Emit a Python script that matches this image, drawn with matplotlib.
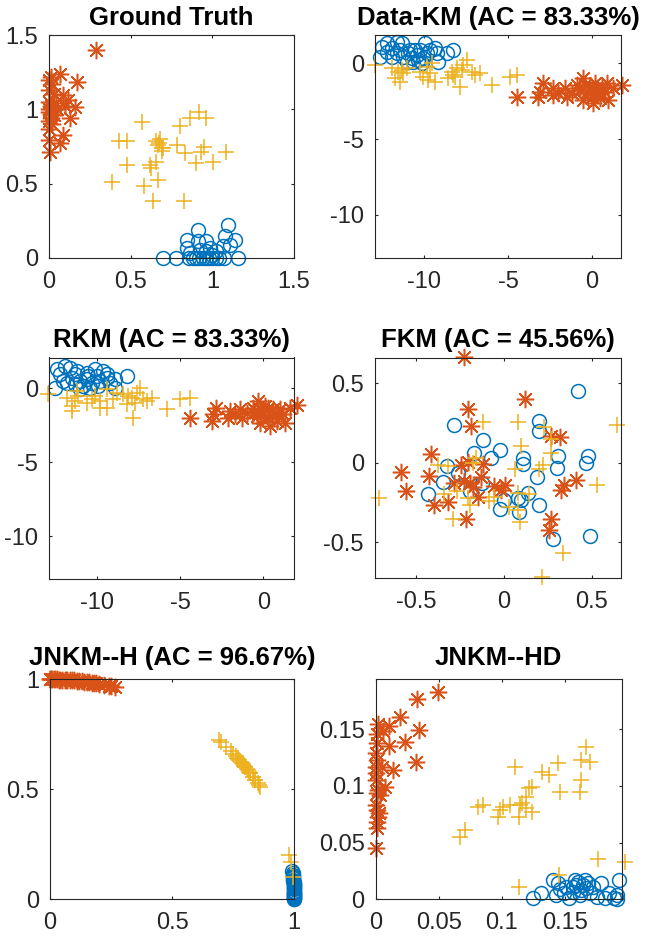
import matplotlib
matplotlib.use('Agg')
import matplotlib.pyplot as plt

plt.rcParams['font.family'] = ['Liberation Sans', 'DejaVu Sans']
plt.rcParams['axes.unicode_minus'] = False

BLUE = '#0072BD'
ORANGE = '#D95319'
YELLOW = '#EDB120'

# ---------------- Ground Truth ----------------
gt_blue_x = [0.70, 0.78, 0.86, 0.88, 0.90, 0.92, 0.94, 0.96, 0.98, 1.00, 1.02, 1.04, 1.07, 1.16,
             0.842, 0.913, 0.842, 0.913, 0.964, 0.923, 0.984, 1.096, 1.076, 1.137, 1.106, 1.066, 0.964, 1.025, 0.862, 1.0]
gt_blue_y = [0, 0, 0, 0, 0, 0, 0, 0, 0, 0, 0, 0, 0, 0,
             0.123, 0.19, 0.067, 0.112, 0.112, 0.056, 0.067, 0.224, 0.146, 0.123, 0.09, 0.078, 0.045, 0.045, 0.034, 0.02]
gt_orange_x = [0.287, 0.067, 0.169, 0.0, 0.01, 0.02, 0.0, 0.03, 0.088, 0.118, 0.159, 0.128, 0.088, 0.067, 0.0,
               0.006, 0.0, 0.01, 0.02, 0.0, 0.03, 0.01, 0.0, 0.02, 0.04, 0.0, 0.015, 0.05, 0.0, 0.1]
gt_orange_y = [1.40, 1.238, 1.186, 1.20, 1.22, 1.17, 1.13, 1.10, 1.097, 1.063, 1.019, 0.94, 0.828, 0.772, 0.795,
               0.716, 1.05, 1.02, 1.0, 0.98, 0.96, 0.94, 0.92, 0.90, 1.04, 1.0, 0.97, 1.0, 0.87, 1.02]
gt_yellow_x = [0.567, 0.428, 0.475, 0.475, 0.387, 0.581, 0.634, 0.668, 0.617, 0.627, 0.658, 0.675, 0.689, 0.801, 0.862,
               0.919, 0.964, 0.781, 0.832, 0.903, 0.948, 0.933, 1.005, 1.086, 0.827, 0.699, 0.658, 0.68, 0.67, 0.69]
gt_yellow_y = [0.918, 0.784, 0.784, 0.627, 0.508, 0.481, 0.381, 0.526, 0.627, 0.604, 0.649, 0.772, 0.739, 0.889, 0.94,
               0.985, 0.94, 0.761, 0.705, 0.638, 0.75, 0.716, 0.649, 0.716, 0.381, 0.739, 0.784, 0.80, 0.76, 0.72]

# ---------------- Data-KM ----------------
dk_blue_x = [-12.25, -11.65, -12.55, -11.95, -11.35, -11.45, -12.65, -11.95, -10.96, -10.76, -10.46, -10.26, -9.96, -9.86, -10.06,
             -9.36, -9.26, -9.16, -8.27, -8.67, -10.66, -10.36, -11.06, -10.86, -11.65, -12.25, -11.25, -9.66, -10.56, -10.16]
dk_blue_y = [1.32, 1.43, 1.10, 0.99, 1.32, 0.88, 0.44, 0.44, 0.66, 0.33, 0.55, 0.88, 1.32, 0.66, 0.33,
             0.99, 0.66, 0.11, 0.88, 0.66, 0.11, 0.22, 0.11, 0.88, 0.66, 0.77, 0.44, 0.88, 0.88, 0.0]
dk_orange_x = [-4.48, -3.19, -2.89, -3.09, -2.29, -2.29, -1.49, -1.59, -1.20, -0.90, -0.50, -0.40, -0.50, -0.30, -0.10,
               0.0, 0.10, 0.30, 0.50, 0.60, 0.80, 1.00, 1.29, 1.79, 0.20, -0.20, -0.70, 0.90, 0.40, -1.99]
dk_orange_y = [-2.2, -2.2, -1.32, -1.87, -2.09, -1.65, -2.2, -1.65, -1.98, -1.43, -0.99, -1.43, -2.42, -1.87, -1.54,
               -2.2, -2.64, -1.65, -2.31, -1.54, -1.87, -2.42, -1.65, -1.43, -1.32, -1.98, -1.76, -1.32, -1.98, -1.98]
dk_yellow_x = [-12.95, -11.95, -11.35, -11.75, -11.45, -11.06, -10.26, -9.86, -9.56, -9.76, -9.36, -8.57, -8.37, -8.17, -7.87,
               -7.77, -7.67, -7.47, -7.17, -6.97, -6.67, -5.98, -4.88, -4.48, -11.25, -9.66, -8.27, -10.06, -8.07, -11.55]
dk_yellow_y = [-0.11, -0.33, -0.44, -0.99, -1.21, -0.33, -0.55, -0.22, 0.0, -1.10, -1.21, -0.99, -0.55, -0.88, -1.54,
               -0.44, -0.11, 0.22, -0.55, -0.77, -0.66, -1.43, -0.88, -0.77, -0.66, -0.66, -0.77, -0.88, -0.33, -0.55]

# ---------------- RKM ----------------
rk_blue_x = [-12.4, -11.9, -11.6, -12.2, -11.3, -12.5, -11.8, -11.0, -10.6, -10.8, -11.0, -10.1, -10.0, -10.3, -9.8,
             -9.4, -8.9, -8.2, -9.2, -10.4, -11.2, -10.6, -9.6, -8.9, -9.9, -11.5, -12.0, -11.3, -10.5, -9.4]
rk_blue_y = [1.29, 1.51, 1.40, 0.95, 0.95, 0.05, 0.38, 0.50, 0.61, 0.16, -0.07, 1.29, 0.84, 0.38, 0.50,
             0.72, 0.61, 0.84, 0.38, 0.05, 1.17, 1.06, 1.17, 0.05, 0.16, 0.72, 0.50, 0.27, 0.84, 0.95]
rk_orange_x = [-4.4, -3.1, -2.84, -3.0, -2.1, -2.0, -1.3, -1.4, -1.0, -0.6, -0.3, -0.2, -0.2, 0.0, 0.1,
               0.3, 0.4, 0.6, 0.8, 1.0, 1.16, 1.3, 1.6, 2.0, 0.3, -0.4, -0.6, 0.9, 0.5, -1.7]
rk_orange_y = [-2.03, -2.21, -1.31, -1.76, -1.99, -1.53, -1.99, -1.42, -1.65, -1.31, -0.86, -1.42, -2.33, -1.76, -1.20,
               -1.99, -2.55, -1.42, -2.21, -1.42, -1.76, -2.33, -1.31, -1.15, -1.31, -1.87, -1.65, -1.76, -1.87, -1.76]
rk_yellow_x = [-12.9, -11.8, -11.5, -11.3, -11.5, -11.1, -10.1, -9.8, -9.4, -9.4, -8.4, -8.2, -7.9, -7.8, -7.6,
               -7.4, -7.2, -6.7, -7.0, -5.8, -5.0, -4.4, -10.6, -9.0, -8.1, -9.8, -11.2, -8.8, -7.7, -10.3]
rk_yellow_y = [-0.41, -0.63, -1.20, -0.86, -1.53, -0.52, -0.52, -1.31, -1.31, -0.07, -0.41, -1.08, -0.63, -1.99, -0.29,
               0.05, -0.74, -0.63, -0.86, -1.42, -0.74, -0.63, -0.97, -0.74, -0.52, -0.86, -0.18, -0.29, -0.97, -0.74]

# ---------------- FKM ----------------
fk_blue_x = [0.421, -0.285, 0.203, 0.203, -0.12, -0.019, -0.171, -0.072, 0.108, 0.108, 0.311, 0.302, 0.478, 0.469, -0.323,
             -0.347, -0.429, -0.19, -0.125, 0.19, 0.08, 0.099, 0.137, 0.0, -0.019, 0.089, 0.203, 0.279, 0.493, -0.262]
fk_blue_y = [0.449, 0.235, 0.26, 0.203, 0.145, 0.082, 0.061, 0.029, 0.029, -0.006, 0.04, -0.034, 0.04, -0.002, -0.023,
             -0.122, -0.195, -0.18, -0.128, -0.086, -0.222, -0.233, -0.187, -0.233, -0.291, -0.31, -0.264, -0.48, -0.457, -0.065]
fk_orange_x = [-0.228, 0.121, -0.205, -0.186, -0.414, -0.584, -0.423, -0.556, -0.395, -0.319, -0.243, -0.205, -0.12, -0.129, -0.224,
               -0.195, -0.281, -0.176, -0.148, -0.057, 0.004, -0.214, 0.269, 0.317, 0.412, 0.342, 0.323, 0.266, 0.26, -0.015]
fk_orange_y = [0.665, 0.40, 0.338, 0.233, 0.057, -0.055, -0.08, -0.18, -0.268, -0.249, -0.013, 0.008, -0.006, -0.086, -0.117,
               -0.128, -0.124, -0.149, -0.212, -0.145, -0.138, -0.352, 0.17, 0.161, -0.107, -0.138, -0.17, -0.354, -0.421, -0.17]
fk_yellow_x = [-0.708, 0.645, -0.116, 0.08, 0.099, 0.228, 0.266, 0.266, 0.222, 0.199, 0.061, -0.372, -0.319, -0.176, -0.157,
               -0.342, -0.205, -0.195, -0.29, -0.082, -0.053, 0.08, 0.146, 0.095, 0.08, 0.336, 0.216, 0.531, 0.032, -0.266]
fk_yellow_y = [-0.222, 0.239, 0.254, 0.254, 0.103, 0.224, 0.149, 0.061, -0.013, -0.04, -0.04, -0.013, -0.023, 0.002, 0.029,
               -0.195, -0.222, -0.264, -0.354, -0.243, -0.212, -0.187, -0.195, -0.369, -0.296, -0.564, -0.715, -0.138, -0.275, -0.18]

# ---------------- JNKM--H ----------------
jh_blue_x = [1.0, 1.0, 1.0, 1.0, 1.0, 1.0, 1.0, 1.0, 1.0, 1.0, 0.999, 0.999, 0.999, 0.999, 0.999,
             0.999, 0.998, 0.998, 0.998, 0.998, 0.997, 0.997, 0.996, 0.996, 0.995, 0.995, 0.994, 0.994, 0.993, 0.992]
jh_blue_y = [0.0, 0.0, 0.005, 0.01, 0.01, 0.015, 0.02, 0.02, 0.025, 0.03, 0.03, 0.035, 0.04, 0.045, 0.05,
             0.05, 0.055, 0.06, 0.065, 0.07, 0.075, 0.08, 0.085, 0.09, 0.095, 0.10, 0.105, 0.11, 0.12, 0.13]
jh_orange_x = [0.0, 0.0, 0.005, 0.01, 0.015, 0.02, 0.03, 0.035, 0.04, 0.05, 0.06, 0.065, 0.07, 0.08, 0.09,
               0.10, 0.11, 0.12, 0.13, 0.14, 0.15, 0.16, 0.17, 0.18, 0.19, 0.20, 0.22, 0.24, 0.25, 0.265]
jh_orange_y = [1.0, 1.0, 1.0, 1.0, 1.0, 1.0, 1.0, 0.999, 0.999, 0.999, 0.998, 0.998, 0.998, 0.997, 0.996,
               0.995, 0.994, 0.993, 0.992, 0.990, 0.989, 0.987, 0.985, 0.984, 0.982, 0.980, 0.976, 0.971, 0.968, 0.964]
jh_yellow_x = [0.69, 0.70, 0.72, 0.74, 0.75, 0.76, 0.765, 0.77, 0.775, 0.78, 0.785, 0.79, 0.795, 0.80, 0.80,
               0.805, 0.81, 0.815, 0.82, 0.82, 0.83, 0.83, 0.84, 0.84, 0.85, 0.855, 0.86, 0.98, 0.985, 0.995]
jh_yellow_y = [0.724, 0.714, 0.694, 0.673, 0.661, 0.650, 0.644, 0.638, 0.632, 0.626, 0.620, 0.613, 0.607, 0.600, 0.600,
               0.593, 0.586, 0.579, 0.572, 0.572, 0.558, 0.558, 0.543, 0.543, 0.527, 0.519, 0.510, 0.20, 0.17, 0.10]

# ---------------- JNKM--HD ----------------
hd_blue_x = [0.1247, 0.1308, 0.1402, 0.1429, 0.1461, 0.1509, 0.1536, 0.1563, 0.159, 0.1603, 0.163, 0.1643, 0.1657, 0.167, 0.1697,
             0.1617, 0.1751, 0.1783, 0.1818, 0.1885, 0.1912, 0.1925, 0.1853, 0.1496, 0.1442, 0.1576, 0.1724, 0.1912, 0.1563, 0.1684]
hd_blue_y = [0.001, 0.0053, 0.017, 0.0038, 0.0088, 0.0112, 0.001, 0.0068, 0.0126, 0.0156, 0.0082, 0.0126, 0.0171, 0.0097, 0.0053,
             0.0038, 0.0024, 0.0141, 0.001, 0.001, 0.0038, 0.0171, 0.0053, 0.0053, 0.0141, 0.0171, 0.0112, 0.0, 0.0112, 0.0141]
hd_orange_x = [0.049, 0.0324, 0.019, 0.0343, 0.0102, 0.0236, 0.0102, 0.0316, 0.0137, 0.0075, 0.002, 0.001, 0.001, 0.0, 0.001,
               0.0, 0.0, 0.0, 0.002, 0.001, 0.0, 0.001, 0.002, 0.001, 0.001, 0.0, 0.0035, 0.003, 0.005, 0.006]
hd_orange_y = [0.183, 0.177, 0.161, 0.149, 0.153, 0.139, 0.135, 0.121, 0.114, 0.099, 0.155, 0.146, 0.138, 0.129, 0.123,
               0.117, 0.111, 0.105, 0.096, 0.094, 0.083, 0.079, 0.073, 0.0685, 0.063, 0.045, 0.092, 0.076, 0.117, 0.148]
hd_yellow_x = [0.0665, 0.0705, 0.0853, 0.0812, 0.0973, 0.0987, 0.1067, 0.1102, 0.1134, 0.1161, 0.1188, 0.1214, 0.1241, 0.1241, 0.1322,
               0.1375, 0.1442, 0.1461, 0.1617, 0.163, 0.163, 0.167, 0.1697, 0.1134, 0.1456, 0.1764, 0.1979, 0.1147, 0.1188, 0.1013]
hd_yellow_y = [0.0553, 0.0612, 0.0832, 0.0818, 0.0729, 0.0788, 0.0832, 0.117, 0.0729, 0.0847, 0.0906, 0.0979, 0.0994, 0.0774, 0.1126,
               0.1097, 0.12, 0.095, 0.095, 0.1053, 0.1229, 0.1347, 0.1215, 0.0112, 0.0215, 0.0353, 0.0332, 0.0832, 0.0803, 0.0818]

titles = ['Ground Truth', 'Data-KM (AC = 83.33%)', 'RKM (AC = 83.33%)',
          'FKM (AC = 45.56%)', 'JNKM--H (AC = 96.67%)', 'JNKM--HD']

panels = [
    dict(title=titles[0], blue=(gt_blue_x, gt_blue_y), orange=(gt_orange_x, gt_orange_y), yellow=(gt_yellow_x, gt_yellow_y),
         xlim=(0, 1.5), ylim=(0, 1.5), xt=[0, 0.5, 1, 1.5], xtl=['0', '0.5', '1', '1.5'],
         yt=[0, 0.5, 1, 1.5], ytl=['0', '0.5', '1', '1.5'], rect=(49, 35, 294, 258), tpad=7.5),
    dict(title=titles[1], blue=(dk_blue_x, dk_blue_y), orange=(dk_orange_x, dk_orange_y), yellow=(dk_yellow_x, dk_yellow_y),
         xlim=(-12.95, 1.75), ylim=(-12.84, 1.87), xt=[-10, -5, 0], xtl=['-10', '-5', '0'],
         yt=[-10, -5, 0], ytl=['-10', '-5', '0'], rect=(375, 35, 621, 258), tpad=7.5),
    dict(title=titles[2], blue=(rk_blue_x, rk_blue_y), orange=(rk_orange_x, rk_orange_y), yellow=(rk_yellow_x, rk_yellow_y),
         xlim=(-12.86, 1.84), ylim=(-12.9, 2.09), xt=[-10, -5, 0], xtl=['-10', '-5', '0'],
         yt=[-10, -5, 0], ytl=['-10', '-5', '0'], rect=(49, 357.5, 294, 579.3), tpad=7.5),
    dict(title=titles[3], blue=(fk_blue_x, fk_blue_y), orange=(fk_orange_x, fk_orange_y), yellow=(fk_yellow_x, fk_yellow_y),
         xlim=(-0.733, 0.667), ylim=(-0.726, 0.661), xt=[-0.5, 0, 0.5], xtl=['-0.5', '0', '0.5'],
         yt=[-0.5, 0, 0.5], ytl=['-0.5', '0', '0.5'], rect=(375, 357.7, 621, 578.3), tpad=7.5),
    dict(title=titles[4], blue=(jh_blue_x, jh_blue_y), orange=(jh_orange_x, jh_orange_y), yellow=(jh_yellow_x, jh_yellow_y),
         xlim=(0, 1), ylim=(0, 1), xt=[0, 0.5, 1], xtl=['0', '0.5', '1'],
         yt=[0, 0.5, 1], ytl=['0', '0.5', '1'], rect=(50, 679.3, 294.3, 899.3), tpad=10),
    dict(title=titles[5], blue=(hd_blue_x, hd_blue_y), orange=(hd_orange_x, hd_orange_y), yellow=(hd_yellow_x, hd_yellow_y),
         xlim=(0, 0.195), ylim=(0, 0.194), xt=[0, 0.05, 0.1, 0.15], xtl=['0', '0.05', '0.1', '0.15'],
         yt=[0, 0.05, 0.1, 0.15], ytl=['0', '0.05', '0.1', '0.15'], rect=(375.7, 679.3, 621.7, 899.3), tpad=10),
]

W, H = 645, 940
fig = plt.figure(figsize=(W / 100, H / 100), dpi=100)
AXC = '#262626'

for p in panels:
    l, t, r, b = p['rect']
    ax = fig.add_axes([l / W, (H - b) / H, (r - l) / W, (b - t) / H])
    ax.plot(*p['blue'], linestyle='none', marker='o', ms=10, mew=1.1, mfc='none', mec=BLUE, clip_on=False)
    ax.plot(*p['orange'], linestyle='none', marker=(8, 2, 0), ms=12.5, mew=1.1, color=ORANGE, clip_on=False)
    ax.plot(*p['yellow'], linestyle='none', marker='+', ms=12, mew=1.1, color=YELLOW, clip_on=False)
    ax.set_xlim(*p['xlim'])
    ax.set_ylim(*p['ylim'])
    ax.set_xticks(p['xt'])
    ax.set_xticklabels(p['xtl'])
    ax.set_yticks(p['yt'])
    ax.set_yticklabels(p['ytl'])
    ax.tick_params(direction='in', top=True, right=True, length=2.5, width=0.8, colors=AXC,
                   labelsize=17)
    ax.tick_params(axis='x', pad=9.5)
    ax.tick_params(axis='y', pad=8)
    for s in ax.spines.values():
        s.set_color(AXC)
        s.set_linewidth(0.8)
    ax.set_title(p['title'], fontsize=18.5, fontweight='bold', pad=p['tpad'], color='black')

fig.savefig('out.png', dpi=100)
